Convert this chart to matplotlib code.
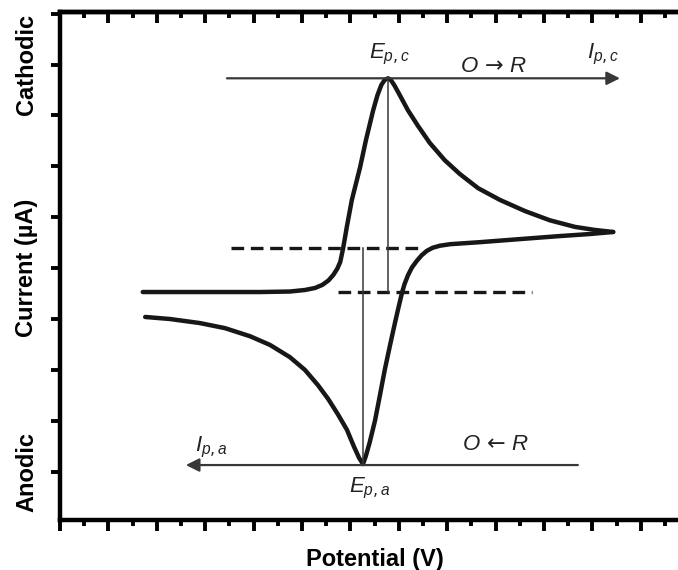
import matplotlib
matplotlib.use('Agg')
import matplotlib.pyplot as plt
from matplotlib.ticker import MultipleLocator

plt.rcParams['font.family'] = ['Liberation Sans', 'DejaVu Sans']
plt.rcParams['mathtext.fontset'] = 'custom'
plt.rcParams['mathtext.it'] = 'Liberation Sans:italic'
# arrows and punctuation in math text come from the rm font
plt.rcParams['mathtext.rm'] = 'DejaVu Sans'

# forward (cathodic) sweep: potential vs current, arbitrary units
fwd_e = [1.71, 2.48, 3.31, 4.13, 4.75, 5.06, 5.27, 5.42, 5.55, 5.65, 5.73, 5.79, 5.85,
         5.93, 6.03, 6.20, 6.32, 6.47, 6.56, 6.64, 6.71, 6.78, 6.84, 6.91, 7.02, 7.19,
         7.40, 7.64, 7.95, 8.26, 8.64, 9.09, 9.61, 10.12, 10.64, 11.05, 11.43]
fwd_i = [-0.47, -0.47, -0.47, -0.47, -0.46, -0.43, -0.39, -0.33, -0.24, -0.13, -0.01, 0.12, 0.39,
         0.83, 1.34, 1.98, 2.51, 3.10, 3.40, 3.60, 3.70, 3.73, 3.69, 3.59, 3.40, 3.10,
         2.79, 2.46, 2.12, 1.85, 1.57, 1.34, 1.12, 0.94, 0.81, 0.75, 0.71]

# reverse (anodic) sweep, starting at the switching potential
rev_e = [11.43, 10.95, 10.33, 9.50, 8.68, 8.06, 7.85, 7.70, 7.58, 7.47, 7.37, 7.27, 7.19,
         7.12, 7.07, 6.98, 6.92, 6.82, 6.71, 6.61, 6.51, 6.40, 6.32, 6.26, 6.18, 6.07,
         5.93, 5.74, 5.54, 5.33, 5.06, 4.75, 4.34, 3.93, 3.41, 2.89, 2.27, 1.76]
rev_i = [0.71, 0.67, 0.63, 0.57, 0.51, 0.47, 0.44, 0.40, 0.34, 0.25, 0.14, 0.01, -0.14,
         -0.31, -0.47, -0.83, -1.08, -1.51, -2.00, -2.50, -2.99, -3.42, -3.69, -3.85, -3.73, -3.50,
         -3.18, -2.87, -2.57, -2.30, -2.00, -1.75, -1.51, -1.34, -1.18, -1.08, -1.00, -0.96]

# peak positions and baselines
ep_c, ip_c = 6.78, 3.73
ep_a, ip_a = 6.26, -3.85
base_c = -0.47
base_a = 0.39
base_c_span = [5.74, 9.75]
base_a_span = [3.53, 7.52]
arrow_c = [3.45, 11.57]
arrow_a = [10.70, 2.60]
arrow_c_y = 3.73
arrow_a_y = -3.87

fig = plt.figure(figsize=(6.78, 5.70), dpi=100)
ax = fig.add_axes([0.0885, 0.0877, 0.928, 0.891])

curve_col = '#171717'
thin_col = '#383838'

ax.plot(fwd_e, fwd_i, color=curve_col, lw=3.2, solid_joinstyle='round', solid_capstyle='round')
ax.plot(rev_e, rev_i, color=curve_col, lw=3.2, solid_joinstyle='round', solid_capstyle='round')

# baselines (dashed)
ax.plot(base_a_span, [base_a, base_a], color=curve_col, lw=2.4, dashes=(3.8, 2.0))
ax.plot(base_c_span, [base_c, base_c], color=curve_col, lw=2.4, dashes=(3.8, 2.0))

# peak current drop lines
ax.plot([ep_c, ep_c], [ip_c, base_c], color=thin_col, lw=1.1)
ax.plot([ep_a, ep_a], [base_a, ip_a], color=thin_col, lw=1.1)

# scan direction arrows
arr = dict(arrowstyle='-|>', color=thin_col, lw=1.6, mutation_scale=20, shrinkA=0, shrinkB=0)
ax.annotate('', xy=(arrow_c[1], arrow_c_y), xytext=(arrow_c[0], arrow_c_y), arrowprops=arr)
ax.annotate('', xy=(arrow_a[1], arrow_a_y), xytext=(arrow_a[0], arrow_a_y), arrowprops=arr)

lab = dict(fontsize=16, color='#222222')
ax.text(ep_c + 0.02, 4.13, r'$E_{p,c}$', ha='center', va='baseline', **lab)
ax.text(11.22, 4.13, r'$I_{p,c}$', ha='center', va='baseline', **lab)
ax.text(8.95, 3.85, r'$O\,\rightarrow\,R$', ha='center', va='baseline', **lab)
ax.text(3.12, -3.61, r'$I_{p,a}$', ha='center', va='baseline', **lab)
ax.text(8.99, -3.58, r'$O\,\leftarrow\,R$', ha='center', va='baseline', **lab)
ax.text(6.40, -4.40, r'$E_{p,a}$', ha='center', va='baseline', **lab)

ax.set_xlim(0, 13)
ax.set_ylim(-4.95, 5.03)

ax.xaxis.set_major_locator(MultipleLocator(1))
ax.xaxis.set_minor_locator(MultipleLocator(0.5))
ax.yaxis.set_major_locator(MultipleLocator(1))
ax.tick_params(axis='x', which='major', direction='out', length=8, width=2.8, labelbottom=False)
ax.tick_params(axis='x', which='minor', direction='out', length=4.5, width=2.8)
ax.tick_params(axis='y', which='major', direction='out', length=6.5, width=2.8, labelleft=False)

# top axis carries inward ticks
top = ax.secondary_xaxis('top')
top.xaxis.set_major_locator(MultipleLocator(1))
top.xaxis.set_minor_locator(MultipleLocator(0.5))
top.tick_params(axis='x', which='major', direction='in', length=8, width=2.8, labeltop=False)
top.tick_params(axis='x', which='minor', direction='in', length=4.5, width=2.8)
top.spines['top'].set_linewidth(3.2)

for s in ax.spines.values():
    s.set_linewidth(3.2)

ax.set_xlabel('Potential (V)', fontsize=17, fontweight='bold', labelpad=12)

ytr = ax.get_yaxis_transform()
ylab = dict(fontsize=17, fontweight='bold', rotation=90, ha='center', va='center', transform=ytr)
ax.text(-0.053, 4, 'Cathodic', **ylab)
ax.text(-0.053, 0, 'Current (\u00b5A)', **ylab)
ax.text(-0.053, -4, 'Anodic', **ylab)

fig.savefig('out.png', dpi=100)
